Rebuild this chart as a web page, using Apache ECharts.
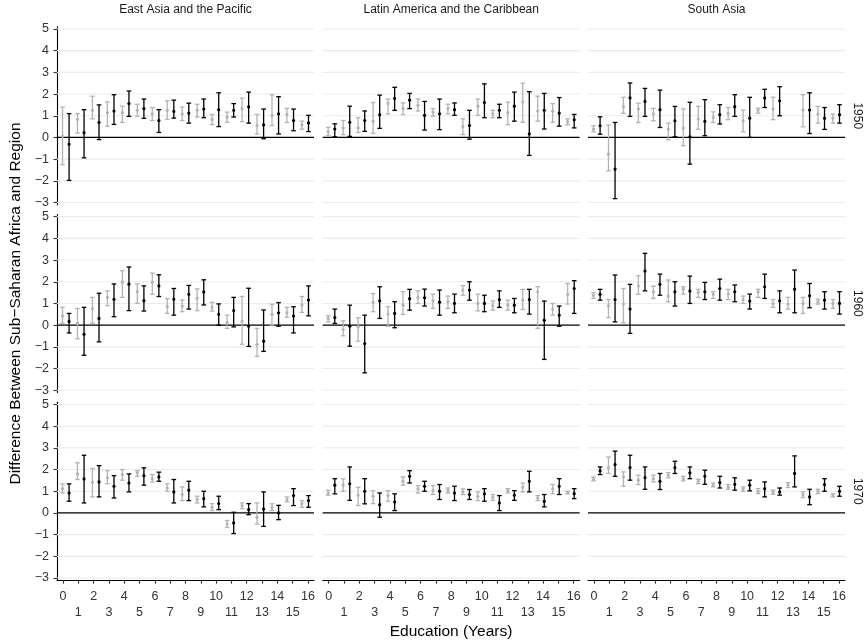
<!DOCTYPE html>
<html>
<head>
<meta charset="utf-8">
<script src="https://cdn.jsdelivr.net/npm/echarts@6/dist/echarts.min.js"></script>
<style>
html,body{margin:0;padding:0;background:#fff;}
#chart{width:865px;height:643px;}
</style>
</head>
<body>
<div id="chart"></div>
<script>
// ---------- data ----------
const EDU = [0,1,2,3,4,5,6,7,8,9,10,11,12,13,14,15,16];
const REGIONS = ['East Asia and the Pacific', 'Latin America and the Caribbean', 'South Asia'];
const YEARS = ['1950', '1960', '1970'];
const Y_TICKS = [-3,-2,-1,0,1,2,3,4,5];
const X_TITLE = 'Education (Years)';
const Y_TITLE = 'Difference Between Sub\u2212Saharan Africa and Region';

// East Asia and the Pacific, 1950
const ea1950GrayMean = [0.05,0.83,1.25,1.14,1.14,1.25,1.09,1.25,1.09,1.25,0.83,0.94,1.33,0.55,1.02,1.06,0.58];
const ea1950GrayLo   = [-1.25,0.2,0.86,0.52,0.69,0.97,0.78,0.83,0.78,0.94,0.59,0.7,0.73,0.16,0.55,0.69,0.38];
const ea1950GrayHi   = [1.4,1.1,1.9,1.64,1.44,1.53,1.38,1.69,1.4,1.53,1.06,1.17,1.81,1.06,1.97,1.34,0.75];
const ea1950BlackMean = [-0.31,0.22,0.69,1.22,1.56,1.33,0.78,1.2,1.12,1.31,1.28,1.25,1.41,0.58,1.09,0.78,0.67];
const ea1950BlackLo   = [-1.98,-0.94,-0.1,0.6,0.97,0.88,0.23,0.89,0.66,0.91,0.5,0.94,0.66,-0.06,0.16,0.31,0.27];
const ea1950BlackHi   = [1.1,1.28,1.5,1.97,2.14,1.77,1.28,1.72,1.58,1.77,2.06,1.56,2.09,1.31,1.88,1.31,1.02];

// Latin America and the Caribbean, 1950
const la1950GrayMean = [0.27,0.44,0.44,0.75,1.56,1.33,1.48,1.17,1.33,0.5,1.44,1.09,1.14,1.64,1.22,1.22,0.73];
const la1950GrayLo   = [0.08,0.13,0.23,0.19,1.09,1.05,1.22,0.98,1.09,0.13,1.02,0.91,0.59,0.7,0.75,0.7,0.58];
const la1950GrayHi   = [0.47,0.78,0.91,1.61,1.77,1.59,1.77,1.33,1.53,0.86,1.77,1.25,1.63,2.5,1.9,1.56,0.86];
const la1950BlackMean = [0.39,0.7,0.78,1.05,1.8,1.72,1.02,1.09,1.28,0.55,1.61,1.25,1.44,0.16,1.25,1.12,0.81];
const la1950BlackLo   = [0.03,0.05,0.28,0.42,1.25,1.33,0.34,0.36,1.02,-0.08,0.91,0.91,0.75,-0.83,0.39,0.52,0.44];
const la1950BlackHi   = [0.63,1.44,1.22,1.95,2.31,2.03,1.66,1.77,1.59,1.25,2.47,1.53,2.09,2.11,2.03,1.84,1.06];

// South Asia, 1950 (no estimate at 13 years)
const sa1950GrayMean = [0.38,-0.77,1.42,1.31,1.08,0.38,0.43,0.85,0.92,1.11,0.77,1.26,1.31,null,1.26,1.08,0.89];
const sa1950GrayLo   = [0.26,-1.54,1.11,0.69,0.77,-0.11,-0.38,0.38,0.69,0.82,0.26,1.12,0.82,null,0.49,0.66,0.66];
const sa1950GrayHi   = [0.54,0.57,1.85,1.58,1.34,0.66,1.31,1.43,1.18,1.38,1.26,1.35,1.85,null,1.97,1.43,1.08];
const sa1950BlackMean = [0.54,-1.46,1.82,1.66,1.28,0.77,0.03,0.74,1.05,1.42,0.89,1.82,1.69,null,1.26,0.88,1.05];
const sa1950BlackLo   = [0.15,-2.82,0.97,0.97,0.46,0.03,-1.23,0.08,0.62,0.97,0.0,1.38,1.0,null,0.18,0.37,0.66];
const sa1950BlackHi   = [0.95,0.69,2.51,2.26,2.18,1.43,1.62,1.74,1.51,1.97,1.85,2.22,2.34,null,2.06,1.38,1.51];

// East Asia and the Pacific, 1960
const ea1960GrayMean = [0.42,0.08,0.76,1.28,1.98,1.55,1.98,0.85,0.88,1.24,0.82,0.12,0.19,-0.88,0.5,0.57,0.93];
const ea1960GrayLo   = [0.08,-0.63,0.08,0.9,1.28,1.0,1.42,0.54,0.62,0.67,0.65,-0.15,-0.88,-1.44,0.0,0.36,0.59];
const ea1960GrayHi   = [0.82,0.77,1.28,1.58,2.51,1.9,2.4,1.22,1.16,1.67,1.05,0.46,1.32,-0.15,0.96,0.82,1.32];
const ea1960BlackMean = [0.17,-0.42,0.31,1.19,1.89,1.13,1.81,1.19,1.42,1.53,0.5,0.67,-0.05,-0.74,0.57,0.42,1.16];
const ea1960BlackLo   = [-0.36,-1.39,-0.77,0.39,0.67,0.65,1.32,0.46,0.74,0.93,0.0,-0.08,-0.98,-1.21,-0.05,-0.36,0.43];
const ea1960BlackHi   = [0.54,0.82,1.47,1.9,2.68,1.81,2.32,1.69,1.83,2.09,0.98,1.28,1.7,0.7,1.04,0.85,1.81];

// Latin America and the Caribbean, 1960
const la1960GrayMean = [0.31,-0.2,-0.08,1.05,0.51,0.92,1.28,1.12,1.08,1.62,1.0,0.89,0.92,1.15,1.54,0.74,1.42];
const la1960GrayLo   = [0.15,-0.49,-0.74,0.62,-0.05,0.49,1.0,0.77,0.77,1.38,0.66,0.69,0.69,0.72,-0.15,0.46,0.97];
const la1960GrayHi   = [0.43,0.2,0.34,1.46,0.85,1.54,1.58,1.43,1.34,1.82,1.43,1.11,1.15,1.65,1.77,1.0,1.92];
const la1960BlackMean = [0.35,-0.05,-0.85,1.12,0.54,1.22,1.26,1.06,1.0,1.62,1.0,1.18,0.92,1.18,0.23,0.46,1.69];
const la1960BlackLo   = [0.08,-0.97,-2.2,0.31,-0.12,0.69,0.88,0.46,0.57,1.15,0.62,0.82,0.57,0.51,-1.58,-0.05,0.54];
const la1960BlackHi   = [0.74,0.92,0.46,1.77,1.08,1.65,1.66,1.62,1.43,2.0,1.38,1.58,1.23,1.65,1.11,0.88,2.05];

// South Asia, 1960
const sa1960GrayMean = [1.37,0.89,0.97,1.8,1.54,1.34,1.66,1.51,1.42,1.43,1.18,1.54,1.0,0.97,1.0,1.08,1.0];
const sa1960GrayLo   = [1.23,0.35,0.11,1.42,1.23,1.08,1.43,1.28,1.23,1.18,1.0,1.28,0.82,0.74,0.54,0.97,0.77];
const sa1960GrayHi   = [1.49,1.18,1.69,2.28,1.8,2.08,1.77,1.65,1.54,1.65,1.34,1.65,1.18,1.28,1.28,1.2,1.18];
const sa1960BlackMean = [1.42,1.18,0.74,2.49,1.88,1.54,1.57,1.54,1.69,1.54,1.11,1.77,1.12,1.66,1.35,1.15,1.0];
const sa1960BlackLo   = [1.15,0.15,-0.38,1.58,1.38,0.88,1.0,1.18,1.15,1.08,0.74,1.23,0.57,0.57,0.8,0.74,0.51];
const sa1960BlackHi   = [1.65,2.31,1.88,3.31,2.35,2.0,2.26,1.97,2.12,1.85,1.43,2.35,1.58,2.54,1.92,1.54,1.54];

// East Asia and the Pacific, 1970
const ea1970GrayMean = [1.12,1.8,1.42,1.62,1.77,1.85,1.58,1.15,0.85,0.62,0.26,-0.51,0.34,-0.2,0.26,0.62,0.43];
const ea1970GrayLo   = [0.92,1.54,0.74,1.35,1.51,1.69,1.43,1.0,0.57,0.46,0.11,-0.66,0.2,-0.51,0.11,0.51,0.26];
const ea1970GrayHi   = [1.34,2.31,2.05,1.95,2.0,1.95,1.77,1.34,1.2,0.77,0.43,-0.35,0.46,0.46,0.42,0.74,0.57];
const ea1970BlackMean = [0.92,1.57,1.43,1.23,1.38,1.72,1.66,0.97,1.05,0.66,0.43,-0.46,0.15,0.18,0.0,0.8,0.57];
const ea1970BlackLo   = [0.54,0.46,0.74,0.69,0.97,1.28,1.46,0.46,0.57,0.28,0.15,-0.95,-0.08,-0.62,-0.31,0.34,0.26];
const ea1970BlackHi   = [1.34,2.66,2.18,1.72,1.8,2.08,1.88,1.54,1.46,1.0,0.77,0.03,0.43,0.97,0.35,1.12,0.8];

// Latin America and the Caribbean, 1970
const la1970GrayMean = [0.92,1.28,0.82,0.77,0.8,1.46,1.11,1.03,1.05,0.97,0.77,0.72,1.03,1.18,0.69,1.11,0.94];
const la1970GrayLo   = [0.82,1.0,0.34,0.43,0.54,1.28,0.92,0.85,0.92,0.85,0.57,0.58,0.92,0.97,0.57,0.88,0.88];
const la1970GrayHi   = [1.05,1.57,1.18,1.03,1.03,1.66,1.26,1.26,1.15,1.11,0.97,0.85,1.12,1.38,0.8,1.31,1.0];
const la1970BlackMean = [1.28,1.34,1.0,0.38,0.51,1.69,1.23,1.0,0.92,0.85,0.88,0.46,0.82,1.46,0.54,1.23,0.89];
const la1970BlackLo   = [0.88,0.58,0.42,-0.2,0.11,1.38,1.0,0.62,0.57,0.62,0.54,0.11,0.58,0.97,0.28,0.85,0.66];
const la1970BlackHi   = [1.58,2.12,1.58,0.92,0.88,1.95,1.46,1.31,1.23,1.08,1.12,0.8,1.03,1.92,0.85,1.58,1.12];

// South Asia, 1970
const sa1970GrayMean = [1.57,2.08,1.66,1.51,1.58,1.74,1.58,1.46,1.29,1.2,1.11,1.0,0.95,1.29,0.85,1.0,0.82];
const sa1970GrayLo   = [1.48,1.82,1.23,1.31,1.43,1.62,1.48,1.35,1.2,1.09,1.0,0.89,0.86,1.17,0.71,0.89,0.74];
const sa1970GrayHi   = [1.66,2.58,1.89,1.74,1.74,1.86,1.69,1.55,1.38,1.31,1.2,1.12,1.05,1.4,0.97,1.09,0.89];
const sa1970BlackMean = [1.94,2.23,2.09,1.63,1.46,2.09,1.85,1.69,1.4,1.32,1.28,1.12,0.97,1.82,0.74,1.31,1.0];
const sa1970BlackLo   = [1.77,1.69,1.51,1.09,1.08,1.82,1.58,1.32,1.15,1.05,1.02,0.74,0.82,1.2,0.38,1.0,0.77];
const sa1970BlackHi   = [2.12,2.85,2.66,2.12,1.82,2.38,2.12,1.97,1.69,1.62,1.51,1.43,1.15,2.63,1.09,1.58,1.23];

// panel table [row = year][col = region]
const PANELS = [
  [
    {gray:[ea1950GrayMean,ea1950GrayLo,ea1950GrayHi], black:[ea1950BlackMean,ea1950BlackLo,ea1950BlackHi]},
    {gray:[la1950GrayMean,la1950GrayLo,la1950GrayHi], black:[la1950BlackMean,la1950BlackLo,la1950BlackHi]},
    {gray:[sa1950GrayMean,sa1950GrayLo,sa1950GrayHi], black:[sa1950BlackMean,sa1950BlackLo,sa1950BlackHi]}
  ],
  [
    {gray:[ea1960GrayMean,ea1960GrayLo,ea1960GrayHi], black:[ea1960BlackMean,ea1960BlackLo,ea1960BlackHi]},
    {gray:[la1960GrayMean,la1960GrayLo,la1960GrayHi], black:[la1960BlackMean,la1960BlackLo,la1960BlackHi]},
    {gray:[sa1960GrayMean,sa1960GrayLo,sa1960GrayHi], black:[sa1960BlackMean,sa1960BlackLo,sa1960BlackHi]}
  ],
  [
    {gray:[ea1970GrayMean,ea1970GrayLo,ea1970GrayHi], black:[ea1970BlackMean,ea1970BlackLo,ea1970BlackHi]},
    {gray:[la1970GrayMean,la1970GrayLo,la1970GrayHi], black:[la1970BlackMean,la1970BlackLo,la1970BlackHi]},
    {gray:[sa1970GrayMean,sa1970GrayLo,sa1970GrayHi], black:[sa1970BlackMean,sa1970BlackLo,sa1970BlackHi]}
  ]
];

// ---------- layout & style ----------
const FONT = '"Liberation Sans", Arial, Helvetica, sans-serif';
const COL_LEFT = [57, 322.7, 588];
const PANEL_W = 257;
const ROW_TOP = [26.8, 214.5, 402.3];
const PANEL_H = 177.9;
const Y_MIN = -3.1, Y_MAX = 5.1;
const X_VIS_MIN = -0.392, X_VIS_MAX = 16.392;
const X_DAT_MIN = -0.588, X_DAT_MAX = 16.588;
const DODGE = 0.22;
const GRAY = '#b3b3b3';
const BLACK = '#000000';
const TICK_COLOR = '#333333';

function minus(v){ return String(v).replace('-', '\u2212'); }

function errRender(color){
  return function(params, api){
    const x = api.value(0), m = api.value(1), lo = api.value(2), hi = api.value(3);
    const pLo = api.coord([x, lo]), pHi = api.coord([x, hi]), pM = api.coord([x, m]);
    const cw = 2.3;
    const st = {stroke: color, lineWidth: 1.3};
    return {type:'group', children:[
      {type:'line', shape:{x1:pLo[0], y1:pLo[1], x2:pHi[0], y2:pHi[1]}, style:st},
      {type:'line', shape:{x1:pHi[0]-cw, y1:pHi[1], x2:pHi[0]+cw, y2:pHi[1]}, style:st},
      {type:'line', shape:{x1:pLo[0]-cw, y1:pLo[1], x2:pLo[0]+cw, y2:pLo[1]}, style:st},
      {type:'circle', shape:{cx:pM[0], cy:pM[1], r:1.6}, style:{fill:color}}
    ]};
  };
}

function gridRender(params, api){
  const v = api.value(0);
  const y = api.coord([0, v])[1];
  const cs = params.coordSys;
  const zero = v === 0;
  return {type:'line', shape:{x1:cs.x, y1:y, x2:cs.x+cs.width, y2:y},
    style:{stroke: zero ? '#000' : '#ebebeb', lineWidth: zero ? 1.3 : 1.1}};
}

const grids = [], xAxes = [], yAxes = [], series = [], graphics = [];

for (let r = 0; r < 3; r++){
  for (let c = 0; c < 3; c++){
    const g = grids.length;
    grids.push({left: COL_LEFT[c], top: ROW_TOP[r], width: PANEL_W, height: PANEL_H, containLabel:false});
    const bottomRow = r === 2, leftCol = c === 0;
    // visible x axis (ticks/labels)
    xAxes.push({
      gridIndex: g, type:'value', min: X_VIS_MIN, max: X_VIS_MAX, position:'bottom',
      axisLine:{show: bottomRow, onZero:false, lineStyle:{color:'#000', width:1.1}},
      axisTick:{show: bottomRow, customValues: EDU, length:3.5, lineStyle:{color:'#333', width:1.1}},
      axisLabel:{show: bottomRow, customValues: EDU, margin:8, fontSize:12.5, lineHeight:16,
        color: TICK_COLOR, fontFamily: FONT,
        formatter: v => (v % 2 === 1 ? '\n' + v : String(v))},
      splitLine:{show:false}
    });
    // hidden data x axis
    xAxes.push({gridIndex: g, type:'value', min: X_DAT_MIN, max: X_DAT_MAX, show:false});
    yAxes.push({
      gridIndex: g, type:'value', min: Y_MIN, max: Y_MAX,
      axisLine:{show: leftCol, onZero:false, lineStyle:{color:'#000', width:1.1}},
      axisTick:{show: leftCol, customValues: Y_TICKS, length:3.5, lineStyle:{color:'#333', width:1.1}},
      axisLabel:{show: leftCol, customValues: Y_TICKS, margin:8, fontSize:12.5, color: TICK_COLOR,
        fontFamily: FONT, formatter: v => minus(v)},
      splitLine:{show:false}
    });
    const xVis = 2*g, xDat = 2*g + 1;
    series.push({
      type:'custom', xAxisIndex: xVis, yAxisIndex: g, renderItem: gridRender,
      data: Y_TICKS.map(v => [v]), silent:true, z:1, clip:false, encode:{y:0}
    });
    const p = PANELS[r][c];
    [['gray', GRAY, -DODGE, 2], ['black', BLACK, DODGE, 3]].forEach(([key, color, off, z]) => {
      const [mean, lo, hi] = p[key];
      const data = [];
      EDU.forEach((e, i) => {
        if (mean[i] == null) return;
        data.push([e + off, mean[i], lo[i], hi[i]]);
      });
      series.push({
        type:'custom', xAxisIndex: xDat, yAxisIndex: g, renderItem: errRender(color),
        data: data, z: z, clip:false, silent:true,
        encode:{x:0, y:[1,2,3]}
      });
    });
  }
}

// strip labels (regions on top, years on right)
REGIONS.forEach((name, c) => {
  graphics.push({type:'text', x: COL_LEFT[c] + PANEL_W/2, y: 10,
    style:{text: name, fill:'#1a1a1a', font: '12px ' + FONT, align:'center', verticalAlign:'middle'}});
});
YEARS.forEach((yr, r) => {
  graphics.push({type:'text', x: 857, y: ROW_TOP[r] + PANEL_H/2, rotation: -Math.PI/2,
    style:{text: yr, fill:'#1a1a1a', font: '12px ' + FONT, align:'center', verticalAlign:'middle'}});
});
// axis titles
graphics.push({type:'text', x: COL_LEFT[0] + (COL_LEFT[2] + PANEL_W - COL_LEFT[0])/2, y: 632,
  style:{text: X_TITLE, fill:'#000', font: '15.5px ' + FONT, align:'center', verticalAlign:'middle'}});
graphics.push({type:'text', x: 16, y: (ROW_TOP[0] + ROW_TOP[2] + PANEL_H)/2, rotation: Math.PI/2,
  style:{text: Y_TITLE, fill:'#000', font: '15.5px ' + FONT, align:'center', verticalAlign:'middle'}});

const chart = echarts.init(document.getElementById('chart'), null, {renderer:'canvas'});
chart.setOption({
  animation:false,
  backgroundColor:'#ffffff',
  grid: grids,
  xAxis: xAxes,
  yAxis: yAxes,
  series: series,
  graphic: graphics
});
</script>
</body>
</html>
